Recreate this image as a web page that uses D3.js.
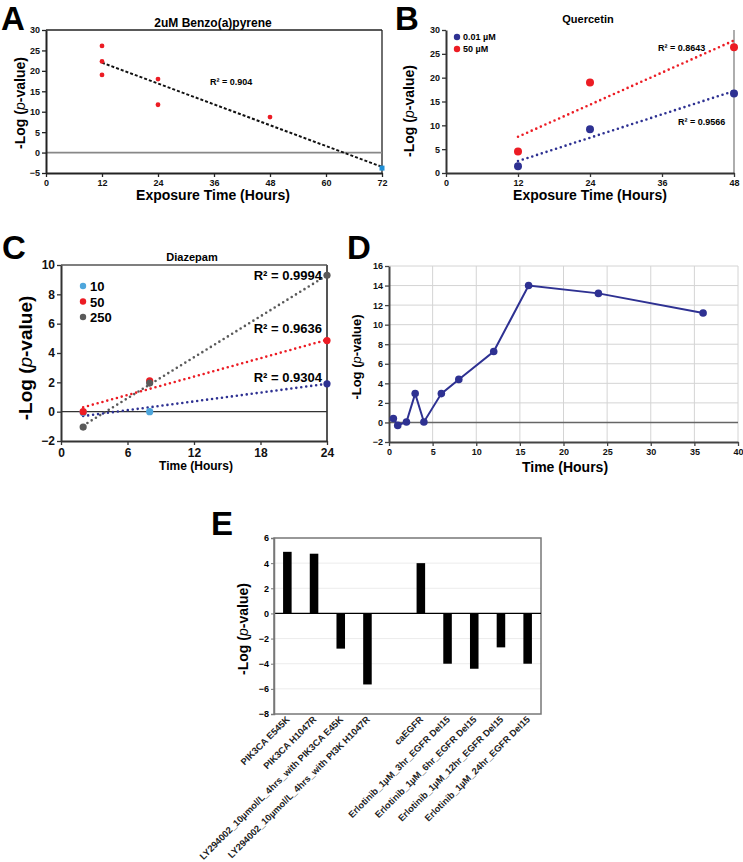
<!DOCTYPE html>
<html>
<head>
<meta charset="utf-8">
<script src="https://cdn.jsdelivr.net/npm/d3@7"></script>
<style>
  body { margin: 0; background: #fff; }
  text { font-family: "Liberation Sans", Arial, sans-serif; }
</style>
</head>
<body>
<div id="fig"></div>
<script>
// ---- data ----
// A: 2uM Benzo(a)pyrene
var benzoHours = [12, 12, 12, 24, 24, 48, 72];
var benzoValues = [26.1, 22.3, 19.0, 18.0, 11.7, 8.7, -3.8];
var benzoTrend = [[12, 22.0], [72, -3.5]];

// B: Quercetin
var quercHours = [12, 24, 48];
var querc001 = [1.4, 9.2, 16.7];
var querc50 = [4.5, 19.0, 26.4];
var querc001Trend = [[12, 2.5], [48, 17.2]];
var querc50Trend = [[12, 7.6], [48, 27.8]];

// C: Diazepam
var diazHours = [2, 8, 24];
var diaz10 = [-0.05, 0.0, 1.9];
var diaz50 = [0.0, 2.1, 4.85];
var diaz250 = [-1.05, 1.95, 9.3];
var diaz10Trend = [[2, -0.3], [24, 1.9]];
var diaz50Trend = [[2, 0.3], [24, 4.9]];
var diaz250Trend = [[2, -0.95], [24, 9.3]];

// D: time course
var courseHours = [0.5, 1, 2, 3, 4, 6, 8, 12, 16, 24, 36];
var courseValues = [0.4, -0.3, 0.05, 2.95, 0.05, 2.95, 4.4, 7.25, 14.0, 13.2, 11.2];

// E: bars (one empty slot between the two groups)
var barLabels = ["PIK3CA E545K", "PIK3CA H1047R", "LY294002_10µmol/L_4hrs_with PIK3CA E45K",
  "LY294002_10µmol/L_4hrs_with PI3K H1047R", " ", "caEGFR", "Erlotinib_1µM_3hr_EGFR Del15",
  "Erlotinib_1µM_6hr_EGFR Del15", "Erlotinib_1µM_12hr_EGFR Del15", "Erlotinib_1µM_24hr_EGFR Del15"];
var barValues = [4.9, 4.75, -2.8, -5.65, null, 4.0, -4.0, -4.4, -2.7, -4.0];

var red = "#ec1c24", navy = "#2e3192", lightBlue = "#4ea6dc", grey = "#5a5a5a";

var svg = d3.select("#fig").append("svg")
    .attr("width", 743)
    .attr("height", 862);

function panelLetter(t, x, y) {
    svg.append("text").attr("x", x).attr("y", y)
        .style("font-size", "33px").style("font-weight", "bold").text(t);
}

function yTitle(x, y, size) {
    var t = svg.append("text")
        .attr("transform", "translate(" + x + "," + y + ") rotate(-90)")
        .attr("text-anchor", "middle")
        .style("font-size", size + "px").style("font-weight", "bold");
    t.append("tspan").text("-Log (");
    t.append("tspan").style("font-style", "italic").style("font-weight", "normal").text("p");
    t.append("tspan").text("-value)");
}

function label(x, y, txt, size, anchor) {
    return svg.append("text").attr("x", x).attr("y", y)
        .attr("text-anchor", anchor || "middle")
        .style("font-size", size + "px").style("font-weight", "bold")
        .text(txt);
}

function axes(x, y, xt, yt, fs, col) {
    var gx = svg.append("g")
        .attr("transform", "translate(0," + y.range()[0] + ")")
        .call(d3.axisBottom(x).tickValues(xt).tickSize(4).tickPadding(3).tickSizeOuter(0));
    var gy = svg.append("g")
        .attr("transform", "translate(" + x.range()[0] + ",0)")
        .call(d3.axisLeft(y).tickValues(yt).tickSize(4).tickPadding(2).tickSizeOuter(0));
    [gx, gy].forEach(function (g) {
        g.selectAll("text").style("font-size", fs + "px").style("font-weight", "bold")
            .style("font-family", "Liberation Sans, Arial, sans-serif").attr("fill", "#111");
        g.selectAll("line").attr("stroke", col).attr("stroke-width", 1.3);
        g.select(".domain").attr("stroke", col).attr("stroke-width", 2);
    });
}

function hline(x, y, v, col, w) {
    svg.append("line")
        .attr("x1", x.range()[0]).attr("x2", x.range()[1])
        .attr("y1", y(v)).attr("y2", y(v))
        .attr("stroke", col).attr("stroke-width", w);
}

function vline(x, y, v, col, w) {
    svg.append("line")
        .attr("x1", x(v)).attr("x2", x(v))
        .attr("y1", y.range()[0]).attr("y2", y.range()[1])
        .attr("stroke", col).attr("stroke-width", w);
}

function trend(x, y, pts, col, dash) {
    svg.append("path")
        .datum(pts)
        .attr("d", d3.line().x(function (d) { return x(d[0]); }).y(function (d) { return y(d[1]); }))
        .attr("fill", "none")
        .attr("stroke", col)
        .attr("stroke-width", dash ? 2 : 2.6)
        .attr("stroke-linecap", dash ? "butt" : "round")
        .attr("stroke-dasharray", dash || "0,5");
}

function dots(x, y, xs, ys, col, r) {
    svg.append("g").selectAll("circle")
        .data(xs.map(function (d, i) { return [d, ys[i]]; }))
        .enter().append("circle")
        .attr("cx", function (d) { return x(d[0]); })
        .attr("cy", function (d) { return y(d[1]); })
        .attr("r", r)
        .attr("fill", typeof col === "function" ? function (d, i) { return col(i); } : col);
}

// ---------------- A ----------------
var xA = d3.scaleLinear().domain([0, 72]).range([46, 382]);
var yA = d3.scaleLinear().domain([-5, 30]).range([173, 30]);
vline(xA, yA, 72, "#222", 1.3);
hline(xA, yA, 30, "#222", 1.3);
hline(xA, yA, 0, "#888", 1.8);
axes(xA, yA, d3.range(0, 73, 12), d3.range(-5, 31, 5), 9, "#222");
trend(xA, yA, benzoTrend, "#111", "3,2");
dots(xA, yA, benzoHours.slice(0, 6), benzoValues.slice(0, 6), red, 2.4);
svg.append("rect")
    .attr("x", xA(benzoHours[6]) - 2.5).attr("y", yA(benzoValues[6]) - 2.5)
    .attr("width", 5).attr("height", 5).attr("fill", "#1f8fd6");
label(213, 27, "2uM Benzo(a)pyrene", 12);
label(210, 85, "R² = 0.904", 9, "start");
label(213, 200, "Exposure Time (Hours)", 14);
yTitle(25, 103, 14);
panelLetter("A", 1, 30);

// ---------------- B ----------------
var xB = d3.scaleLinear().domain([0, 48]).range([446, 734]);
var yB = d3.scaleLinear().domain([0, 30]).range([173, 30]);
vline(xB, yB, 48, "#777", 1.2);
axes(xB, yB, d3.range(0, 49, 12), d3.range(0, 31, 5), 9, "#333");
trend(xB, yB, querc50Trend, red);
trend(xB, yB, querc001Trend, navy);
dots(xB, yB, quercHours, querc001, navy, 4);
dots(xB, yB, quercHours, querc50, red, 4);
label(588, 23, "Quercetin", 11);
label(658, 51, "R² = 0.8643", 9, "start");
label(678, 125, "R² = 0.9566", 9, "start");
svg.append("circle").attr("cx", 457).attr("cy", 37).attr("r", 3.2).attr("fill", navy);
svg.append("circle").attr("cx", 457).attr("cy", 49).attr("r", 3.2).attr("fill", red);
label(463, 40, "0.01 µM", 9, "start");
label(463, 52, "50 µM", 9, "start");
label(590, 200, "Exposure Time (Hours)", 14);
yTitle(414, 111, 14);
panelLetter("B", 395, 30);

// ---------------- C ----------------
var xC = d3.scaleLinear().domain([0, 24]).range([61, 327]);
var yC = d3.scaleLinear().domain([-2, 10]).range([441, 265]);
vline(xC, yC, 24, "#555", 2);
hline(xC, yC, 10, "#555", 1.5);
hline(xC, yC, 0, "#333", 1.3);
axes(xC, yC, d3.range(0, 25, 6), d3.range(-2, 11, 2), 12, "#333");
trend(xC, yC, diaz250Trend, grey);
trend(xC, yC, diaz50Trend, red);
trend(xC, yC, diaz10Trend, navy);
dots(xC, yC, diazHours, diaz10, function (i) { return i === 2 ? navy : lightBlue; }, 3.6);
dots(xC, yC, diazHours, diaz50, red, 3.6);
dots(xC, yC, diazHours, diaz250, grey, 3.6);
label(192, 261, "Diazepam", 11);
label(322, 280, "R² = 0.9994", 13, "end");
label(322, 333, "R² = 0.9636", 13, "end");
label(322, 382, "R² = 0.9304", 13, "end");
[["10", lightBlue], ["50", red], ["250", grey]].forEach(function (d, i) {
    svg.append("circle").attr("cx", 83).attr("cy", 286 + i * 15.5).attr("r", 3.2).attr("fill", d[1]);
    label(90, 291 + i * 15.5, d[0], 13, "start");
});
label(196, 470, "Time (Hours)", 12);
yTitle(32, 358, 19);
panelLetter("C", 2, 259);

// ---------------- D ----------------
var xD = d3.scaleLinear().domain([0, 40]).range([389, 738]);
var yD = d3.scaleLinear().domain([-2, 16]).range([442, 266]);
d3.range(5, 41, 5).forEach(function (v) { vline(xD, yD, v, "#d4d4d4", 1); });
d3.range(2, 17, 2).forEach(function (v) { hline(xD, yD, v, "#d4d4d4", 1); });
hline(xD, yD, 0, "#666", 1.5);
axes(xD, yD, d3.range(0, 41, 5), d3.range(-2, 17, 2), 9, "#444");
svg.append("path")
    .datum(courseHours.map(function (d, i) { return [d, courseValues[i]]; }))
    .attr("d", d3.line().x(function (d) { return xD(d[0]); }).y(function (d) { return yD(d[1]); }))
    .attr("fill", "none").attr("stroke", navy).attr("stroke-width", 2);
dots(xD, yD, courseHours, courseValues, navy, 3.8);
label(565, 472, "Time (Hours)", 14);
yTitle(361, 357, 13);
panelLetter("D", 347, 259);

// ---------------- E ----------------
var xE = d3.scaleBand().domain(barLabels).range([274, 541]).paddingInner(0.68).paddingOuter(0.34);
var yE = d3.scaleLinear().domain([-8, 6]).range([714, 538]);
d3.range(-6, 6, 2).forEach(function (v) { if (v !== 0) hline({ range: function () { return [274, 541]; } }, yE, v, "#ececec", 1); });
svg.append("rect").attr("x", 274).attr("y", 538).attr("width", 267).attr("height", 176)
    .attr("fill", "none").attr("stroke", "#777").attr("stroke-width", 1.5);
svg.append("g").selectAll("rect")
    .data(barValues.map(function (d, i) { return [barLabels[i], d]; }).filter(function (d) { return d[1] !== null; }))
    .enter().append("rect")
    .attr("x", function (d) { return xE(d[0]); })
    .attr("width", xE.bandwidth())
    .attr("y", function (d) { return yE(Math.max(0, d[1])); })
    .attr("height", function (d) { return Math.abs(yE(d[1]) - yE(0)); })
    .attr("fill", "#000");
svg.append("line").attr("x1", 274).attr("x2", 541).attr("y1", yE(0)).attr("y2", yE(0))
    .attr("stroke", "#000").attr("stroke-width", 1.3);
var gyE = svg.append("g").attr("transform", "translate(274,0)")
    .call(d3.axisLeft(yE).tickValues(d3.range(-8, 7, 2)).tickSize(3).tickPadding(2));
gyE.selectAll("text").style("font-size", "9px").style("font-weight", "bold");
gyE.select(".domain").attr("stroke", "#777").attr("stroke-width", 1.5);
gyE.selectAll("line").attr("stroke", "#777");
svg.append("g").selectAll("text")
    .data(barLabels)
    .enter().append("text")
    .attr("transform", function (d) {
        return "translate(" + (xE(d) + xE.bandwidth() / 2 + 3) + ",720) rotate(-45)";
    })
    .attr("text-anchor", "end")
    .style("font-size", "9.3px")
    .style("font-weight", "bold")
    .attr("fill", "#222")
    .text(function (d) { return d.trim(); });
yTitle(248, 629, 14);
panelLetter("E", 211, 535);
</script>
</body>
</html>
